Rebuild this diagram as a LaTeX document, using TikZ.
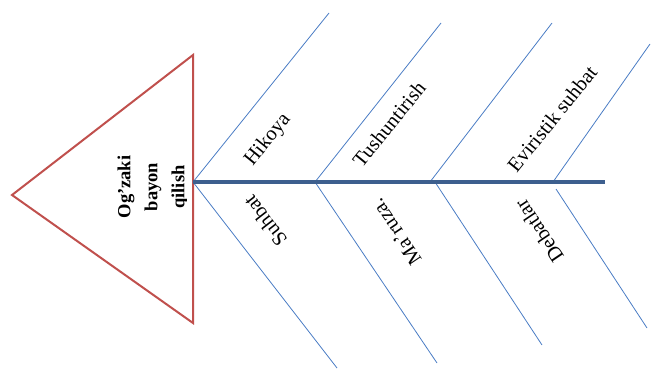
\documentclass[tikz,border=0pt]{standalone}
\usepackage{fontspec}
\setmainfont{Liberation Serif}
\definecolor{spineblue}{HTML}{3D5F8E}
\definecolor{boneblue}{HTML}{4A7CC4}
\definecolor{headred}{HTML}{C0504D}
\begin{document}
\begin{tikzpicture}[x=1pt,y=-1pt,
  bone/.style={draw=boneblue, line width=0.8pt},
  spine/.style={draw=spineblue, line width=4pt},
  headtri/.style={draw=headred, line width=2pt, line join=miter},
  lbl/.style={font=\fontsize{20.5}{24}\selectfont, inner sep=0pt},
  headlbl/.style={font=\fontsize{18.5}{27}\selectfont\bfseries, inner sep=0pt, align=center, rotate=90}]
\useasboundingbox (0,0) rectangle (651,370);
% head triangle
\coordinate (tl) at (12,195);
\coordinate (tt) at (193,55);
\coordinate (tb) at (193,323);
\draw[headtri] (tl) -- (tt) -- (tb) -- cycle;
\begin{scope}
\clip (0,0) rectangle (186,370);
\node[headlbl] (head) at (153,187) {Og'zaki\\bayon\\qilish};
\end{scope}
% spine
\coordinate (s0) at (193,182);
\coordinate (s1) at (315,182);
\coordinate (s2) at (430,182);
\coordinate (s2b) at (435,182);
\coordinate (s3) at (553,182);
\coordinate (s3b) at (556,189);
\coordinate (send) at (605,182);
% bone ends
\coordinate (u0) at (329,13);
\coordinate (d0) at (337,368);
\coordinate (u1) at (441,23);
\coordinate (d1) at (437,363);
\coordinate (u2) at (552,23);
\coordinate (d2) at (542,345);
\coordinate (u3) at (650,44);
\coordinate (d3) at (647,328);
\draw[bone] (s0) -- (u0);
\draw[bone] (s0) -- (d0);
\draw[bone] (s1) -- (u1);
\draw[bone] (s1) -- (d1);
\draw[bone] (s2) -- (u2);
\draw[bone] (s2b) -- (d2);
\draw[bone] (s3) -- (u3);
\draw[bone] (s3b) -- (d3);
\draw[spine] (s0) -- (send);
% labels
\node[lbl, rotate=51] (hikoya) at (268,140) {Hikoya};
\node[lbl, rotate=51] (tush) at (389,124) {Tushuntirish};
\node[lbl, rotate=51] (evr) at (552,119) {Eviristik suhbat};
\node[lbl, rotate=128] (suhbat) at (265,221) {Suhbat};
\node[lbl, rotate=124] (maruza) at (396,232) {Ma'ruza.};
\node[lbl, rotate=124] (debat) at (539,231) {Debatlar};
\end{tikzpicture}
\end{document}
